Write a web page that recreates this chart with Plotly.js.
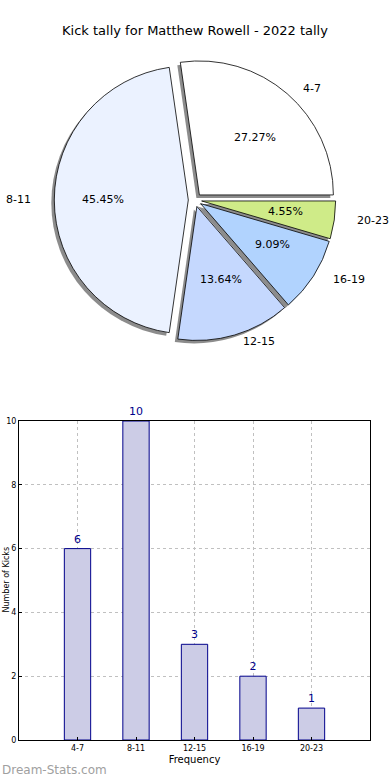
<!DOCTYPE html>
<html><head><meta charset="utf-8">
<script src="https://cdn.plot.ly/plotly-3.0.1.min.js"></script>
<style>html,body{margin:0;padding:0;background:#fff}#chart{width:390px;height:780px}</style>
</head><body><div id="chart"></div>
<script>
const categories = ['4-7', '8-11', '12-15', '16-19', '20-23'];
const counts = [6, 10, 3, 2, 1];
const pieColors = ['#ffffff', '#ebf2ff', '#c5d8fe', '#b1d3fe', '#cfeb88'];
const chartTitle = 'Kick tally for Matthew Rowell - 2022 tally';
const xTitle = 'Frequency';
const yTitle = 'Number of Kicks';
const yTicks = [0, 2, 4, 6, 8, 10];

const W = 390, H = 780;
const total = counts.reduce((a, b) => a + b, 0);
const pull = 0.05;
// Plotly counterclockwise: first slice spans [rotation, rotation+v0] (clockwise from 12 o'clock)
const rot = 90 - 360 * counts[0] / total;
// pie geometry in pixels
const cx = 195, cy = 200, r = 134;
const half = r * (1 + pull);
const dom = {x: [(cx - half) / W, (cx + half) / W], y: [1 - (cy + half) / H, 1 - (cy - half) / H]};
const sdx = -3, sdy = 3;
const domShadow = {x: [dom.x[0] + sdx / W, dom.x[1] + sdx / W], y: [dom.y[0] - sdy / H, dom.y[1] - sdy / H]};

const traces = [
  {type: 'pie', labels: categories, values: counts, sort: false, direction: 'counterclockwise', rotation: rot,
   pull: counts.map(() => pull), domain: domShadow, textinfo: 'none', hoverinfo: 'skip', showlegend: false,
   marker: {colors: counts.map(() => 'rgba(0,0,0,0.45)'), line: {width: 0}}},
  {type: 'pie', labels: categories, values: counts, sort: false, direction: 'counterclockwise', rotation: rot,
   pull: counts.map(() => pull), domain: dom, textinfo: 'none', showlegend: false,
   marker: {colors: pieColors, line: {color: '#000', width: 0.8}}},
  {type: 'bar', x: categories, y: counts, xaxis: 'x', yaxis: 'y', width: 0.45,
   marker: {color: '#ccccE6', line: {color: '#00008b', width: 1}},
   text: counts.map(String), textposition: 'outside', cliponaxis: false,
   textfont: {color: '#00008b', size: 11, family: 'DejaVu Sans'}, showlegend: false}
];

// pie text annotations (matplotlib-like: labels at 1.1r, pct at 0.6r, elliptical axes)
const rx = 141, ry = 128;
const annotations = [];
let start = 0;
counts.forEach((v, i) => {
  const frac = v / total;
  const mid = (start + frac / 2) * 2 * Math.PI;
  start += frac;
  const c = Math.cos(mid), s = Math.sin(mid);
  const lx = cx + (pull + 1.1) * rx * c, ly = cy - (pull + 1.1) * ry * s;
  annotations.push({xref: 'paper', yref: 'paper', x: lx / W, y: 1 - ly / H, text: categories[i], showarrow: false,
    xanchor: c >= 0 ? 'left' : 'right', yanchor: 'middle', font: {size: 11, color: '#000'}});
  const px = cx + (pull + 0.6) * rx * c, py = cy - (pull + 0.6) * ry * s;
  annotations.push({xref: 'paper', yref: 'paper', x: px / W, y: 1 - py / H, text: (frac * 100).toFixed(2) + '%', showarrow: false,
    xanchor: 'center', yanchor: 'middle', font: {size: 11, color: '#000'}});
});
annotations.push({xref: 'paper', yref: 'paper', x: 0, y: 1 - 770 / H, xanchor: 'left', yanchor: 'middle', showarrow: false,
  text: 'Dream-Stats.com', font: {size: 12, color: '#a0a0a0', family: 'DejaVu Sans'}});
// y-axis title at the far left edge
annotations.push({xref: 'paper', yref: 'paper', x: 0, y: 1 - 580 / H, xanchor: 'left', yanchor: 'middle', showarrow: false,
  textangle: -90, text: yTitle, font: {size: 8, color: '#000'}, borderpad: 0});

const layout = {
  width: W, height: H, margin: {l: 0, r: 0, t: 0, b: 0}, paper_bgcolor: '#fff', plot_bgcolor: '#fff',
  font: {family: 'DejaVu Sans', color: '#000'},
  title: {text: chartTitle, x: 0.5, xanchor: 'center', y: 1 - 30 / H, yanchor: 'middle', font: {size: 13, color: '#000'}},
  xaxis: {domain: [19 / W, 370 / W], anchor: 'y', range: [-1, 5], showline: true, mirror: true, linecolor: '#000', linewidth: 1,
    showgrid: true, gridcolor: '#c0c0c0', griddash: 'dot', gridwidth: 1, ticks: 'inside', ticklen: 3, tickcolor: '#000',
    tickfont: {size: 8}, zeroline: false, fixedrange: true,
    title: {text: xTitle, font: {size: 10}, standoff: 4}},
  yaxis: {domain: [1 - 740 / H, 1 - 421 / H], anchor: 'x', range: [0, 10], tickvals: yTicks, showline: true, mirror: true,
    linecolor: '#000', linewidth: 1, showgrid: true, gridcolor: '#c0c0c0', griddash: 'dot', gridwidth: 1,
    ticks: 'inside', ticklen: 3, tickcolor: '#000', tickfont: {size: 8}, zeroline: false, fixedrange: true},
  annotations: annotations,
  bargap: 0.5
};

Plotly.newPlot('chart', traces, layout, {displayModeBar: false, staticPlot: true});
</script></body></html>
